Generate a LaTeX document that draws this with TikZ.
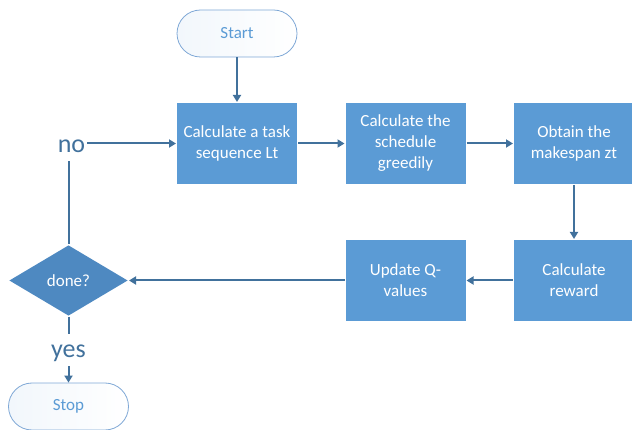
\documentclass[tikz,border=0pt]{standalone}
\usepackage{fontspec}
\setmainfont{Carlito}
\usetikzlibrary{shapes, arrows.meta, positioning, calc}
\definecolor{boxblue}{HTML}{5B9BD5}
\definecolor{diablue}{HTML}{4E89C1}
\definecolor{lineblue}{HTML}{41719C}
\definecolor{termline}{HTML}{7FA8D6}

\begin{document}
\begin{tikzpicture}[x=1pt,y=-1pt,>={Triangle[width=8pt,length=7pt]},
      line width=2pt,draw=lineblue]
  \useasboundingbox (0,0) rectangle (632,430);

  \tikzstyle{proc} = [rectangle, fill=boxblue, text=white, align=center,
      minimum width=120pt, minimum height=81pt, inner sep=0pt,
      font=\fontsize{17}{21}\selectfont]
  \tikzstyle{term} = [rectangle, rounded corners=23.5pt, draw=termline, line width=0.8pt,
      left color=boxblue!8, right color=white, text=boxblue,
      minimum width=120pt, minimum height=47pt, font=\fontsize{17}{21}\selectfont]
  \tikzstyle{decide} = [diamond, fill=diablue, text=white, aspect=1.68, inner sep=0pt,
      minimum width=119pt, minimum height=71pt, font=\fontsize{17}{21}\selectfont]
  \tikzstyle{answer} = [text=lineblue, inner sep=1pt, font=\fontsize{26}{30}\selectfont]

  \node [term] at (237,33.5) (start) {Start};
  \node [proc] at (237,143.5) (calc) {Calculate a task\\sequence Lt};
  \node [proc] at (405.5,143.5) (sched) {Calculate the\\schedule\\greedily};
  \node [proc] at (574,143.5) (make) {Obtain the\\makespan zt};
  \node [proc] at (574,280.5) (reward) {Calculate\\reward};
  \node [proc] at (405.5,280.5) (update) {Update Q-\\values};
  \node [decide] at (68.5,280.5) (done) {done?};
  \node [term] at (68.5,406.5) (stop) {Stop};

  \node [answer, anchor=base, text height=12pt, text depth=6pt] at (71.5,153) (no) {no};
  \node [answer, anchor=base, text height=23pt, text depth=7pt, inner sep=0pt] at (68.5,358) (yes) {yes};

  \draw [->] (start) -- (calc);
  \draw [->] (calc) -- (sched);
  \draw [->] (sched) -- (make);
  \draw [->] (make) -- (reward);
  \draw [->] (reward) -- (update);
  \draw [->] (update) -- (done);

  \draw (done.north) -- (done.north |- no.south);
  \draw [->] (no.east |- calc.west) -- (calc.west);
  \draw (done.south) -- (yes.north);
  \draw [->] (yes.south) -- (stop.north);
\end{tikzpicture}
\end{document}
